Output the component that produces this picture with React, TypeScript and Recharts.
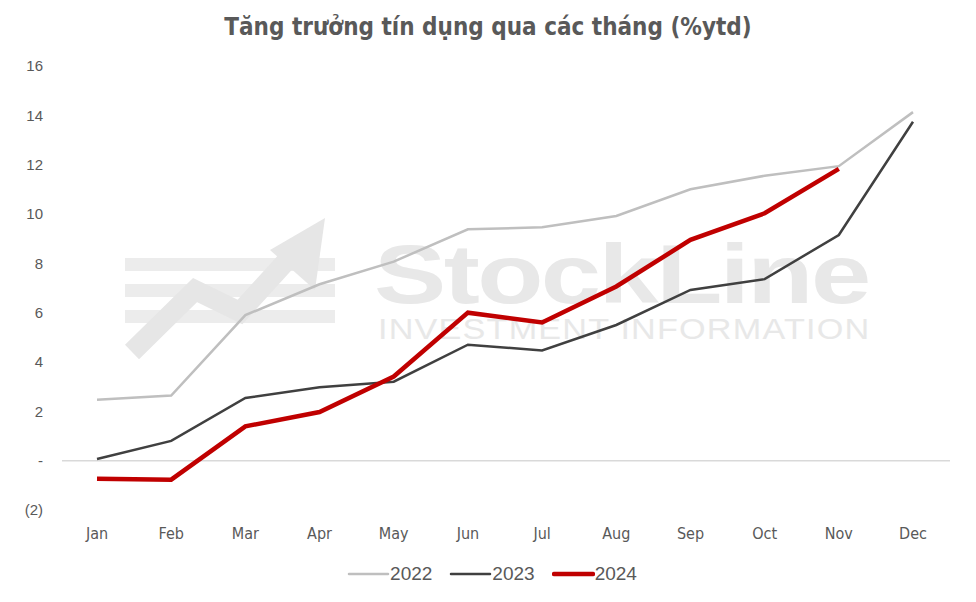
import { Legend, Line, LineChart, ReferenceLine, XAxis, YAxis } from "recharts";

const months = ["Jan", "Feb", "Mar", "Apr", "May", "Jun", "Jul", "Aug", "Sep", "Oct", "Nov", "Dec"];
const y2022 = [2.47, 2.64, 5.9, 7.15, 8.07, 9.38, 9.46, 9.92, 11.0, 11.55, 11.94, 14.13];
const y2023 = [0.07, 0.8, 2.54, 2.98, 3.2, 4.7, 4.47, 5.5, 6.92, 7.36, 9.15, 13.74];
const y2024 = [-0.73, -0.77, 1.39, 1.97, 3.41, 6.0, 5.6, 7.06, 8.95, 10.03, 11.83, null];
const yTicks = [-2, 0, 2, 4, 6, 8, 10, 12, 14, 16];

const data = months.map((m, i) => ({ month: m, "2022": y2022[i], "2023": y2023[i], "2024": y2024[i] }));

const fmtY = (v: number) => (v === 0 ? "-" : v < 0 ? `(${Math.abs(v)})` : String(v));

const LegendBox = ({ payload }: any) => (
  <div style={{ display: "flex", justifyContent: "center", gap: 17, paddingLeft: 34, fontFamily: "Liberation Sans, Arial, sans-serif", fontSize: 19, color: "#595959", lineHeight: "22px" }}>
    {(payload || []).map((p: any) => (
      <div key={p.value} style={{ display: "flex", alignItems: "center" }}>
        <svg width={43} height={10}>
          <line x1={2} y1={5} x2={41} y2={5} stroke={p.color} strokeWidth={p.value === "2024" ? 4.5 : 2.5} strokeLinecap="round" />
        </svg>
        <span>{p.value}</span>
      </div>
    ))}
  </div>
);

export default function App() {
  return (
    <div style={{ position: "absolute", left: 0, top: 0, width: 976, height: 602, background: "#fff", overflow: "hidden" }}>
      {/* watermark */}
      <div style={{ position: "absolute", left: 374, top: 232, fontFamily: "Liberation Sans, Arial, sans-serif", fontWeight: 700, fontSize: 84, color: "#e8e8e8", letterSpacing: -2, lineHeight: 1, transform: "scaleX(1.29)", transformOrigin: "left top" }}>
        StockLine
      </div>
      <div style={{ position: "absolute", left: 378, top: 315, fontFamily: "Liberation Sans, Arial, sans-serif", fontSize: 29, color: "#e8e8e8", letterSpacing: 1, lineHeight: 1, transform: "scaleX(1.18)", transformOrigin: "left top" }}>
        INVESTMENT INFORMATION
      </div>
      <svg style={{ position: "absolute", left: 0, top: 0 }} width={976} height={602}>
        <rect x={125} y={258} width={210} height={13} fill="#ececec" />
        <rect x={125} y={284} width={210} height={13} fill="#ececec" />
        <rect x={125} y={310} width={210} height={13} fill="#ececec" />
        <polyline points="132,352 195,290 240,312 300,246" fill="none" stroke="#e6e6e6" strokeWidth={20} />
        <polygon points="325,218 315,290 270,250" fill="#e6e6e6" />
      </svg>
      <div style={{ position: "absolute", left: 0, top: 13, width: 976, textAlign: "center", fontFamily: "DejaVu Sans Condensed, sans-serif", fontWeight: 700, fontSize: 24, color: "#595959" }}>
        Tăng trưởng tín dụng qua các tháng (%ytd)
      </div>
      <div style={{ position: "absolute", left: 0, top: 0 }}>
        <LineChart width={976} height={602} data={data} margin={{ top: 66, right: 26, bottom: 20, left: 0 }}>
          <XAxis
            dataKey="month"
            axisLine={false}
            tickLine={false}
            tickMargin={12}
            height={40}
            padding={{ left: 35, right: 37 }}
            tick={{ fill: "#595959", fontSize: 16, fontFamily: "DejaVu Sans Condensed, sans-serif" }}
          />
          <YAxis
            domain={[-2, 16]}
            ticks={yTicks}
            tickFormatter={fmtY}
            axisLine={false}
            tickLine={false}
            tickMargin={13}
            width={62}
            interval={0}
            tick={{ fill: "#595959", fontSize: 15, fontFamily: "Liberation Sans, Arial, sans-serif" }}
          />
          <ReferenceLine y={0} stroke="#d9d9d9" strokeWidth={1.5} />
          <Legend verticalAlign="bottom" height={32} wrapperStyle={{ bottom: 7 }} content={<LegendBox />} />
          <Line dataKey="2022" stroke="#bfbfbf" strokeWidth={2.5} dot={false} isAnimationActive={false} />
          <Line dataKey="2023" stroke="#404040" strokeWidth={2.5} dot={false} isAnimationActive={false} />
          <Line dataKey="2024" stroke="#c00000" strokeWidth={4.5} dot={false} isAnimationActive={false} />
        </LineChart>
      </div>
    </div>
  );
}
